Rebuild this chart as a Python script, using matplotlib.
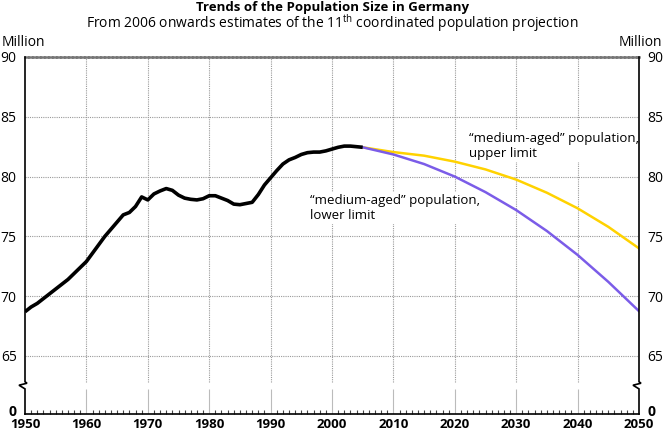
import matplotlib
matplotlib.use("Agg")
import matplotlib.pyplot as plt
import matplotlib.transforms as mtransforms

plt.rcParams['font.family'] = ['Open Sans', 'DejaVu Sans']
plt.rcParams['mathtext.fontset'] = 'custom'
plt.rcParams['mathtext.rm'] = 'Open Sans'

# ---------------------------------------------------------------
# Data (million inhabitants)
# ---------------------------------------------------------------
hist_years = list(range(1950, 2006))
hist_pop = [68.7, 69.1, 69.4, 69.8, 70.2, 70.6, 71.0, 71.4, 71.9, 72.4,
            72.9, 73.6, 74.3, 75.0, 75.6, 76.2, 76.8, 77.0, 77.5, 78.3,
            78.05, 78.55, 78.8, 79.0, 78.85, 78.45, 78.2, 78.1, 78.05, 78.15,
            78.4, 78.4, 78.2, 78.0, 77.7, 77.65, 77.75, 77.85, 78.5, 79.3,
            79.9, 80.5, 81.05, 81.4, 81.6, 81.85, 82.0, 82.05, 82.05, 82.15,
            82.3, 82.45, 82.55, 82.55, 82.5, 82.45]

proj_years = [2005, 2010, 2015, 2020, 2025, 2030, 2035, 2040, 2045, 2050]
lower_limit = [82.45, 81.85, 81.05, 80.0, 78.7, 77.2, 75.45, 73.45, 71.2, 68.75]
upper_limit = [82.45, 82.05, 81.75, 81.25, 80.6, 79.75, 78.65, 77.35, 75.8, 74.0]

decades = list(range(1950, 2051, 10))
y_ticks = [65, 70, 75, 80, 85, 90]

# ---------------------------------------------------------------
# Layout constants
# ---------------------------------------------------------------
Y_ZERO = 60.15        # where the "0" label sits (axis broken below 65)
BREAK_TOP = 62.85
BREAK_BOT = 62.25
PX_Y = 1 / 11.96      # one pixel in data units (y)
PX_X = 100 / 614      # one pixel in data units (x)

GRID_C = '#9a9a9a'
PURPLE = '#7b5ce8'
YELLOW = '#ffd200'

fig = plt.figure(figsize=(6.64, 4.33), dpi=100, facecolor='white')
ax = fig.add_axes([25 / 664, 19 / 433, 614 / 664, 357 / 433])
ax.set_xlim(1950, 2050)
ax.set_ylim(Y_ZERO, 90)

# grid
for v in y_ticks[:-1]:
    ax.axhline(v, color=GRID_C, lw=0.8, ls=(0, (1, 1)), zorder=1)
for d in decades[1:-1]:
    ax.vlines(d, BREAK_TOP, 90, color=GRID_C, lw=0.8, ls=(0, (1, 1)), zorder=1)
    ax.vlines(d, Y_ZERO, BREAK_BOT, color='#bbbbbb', lw=0.8, zorder=1)

# spines
for s in ['left', 'right']:
    ax.spines[s].set_visible(False)
ax.spines['bottom'].set_color('black')
ax.spines['bottom'].set_linewidth(1.2)
ax.spines['top'].set_color('#777777')
ax.spines['top'].set_linewidth(1.8)
ax.spines['top'].set_linestyle((0, (1, 0.6)))

# left / right axis lines with break mark
for x0 in [1950, 2050]:
    xs = [x0, x0, x0 + 2 * PX_X, x0 - 6 * PX_X, x0, x0]
    ys = [90, BREAK_TOP, BREAK_TOP - 1.5 * PX_Y, BREAK_TOP - 3.5 * PX_Y,
          BREAK_BOT, Y_ZERO]
    ax.plot(xs, ys, color='black', lw=1.2, clip_on=False, zorder=5,
            solid_joinstyle='miter')

# lines
ax.plot(proj_years, upper_limit, color=YELLOW, lw=1.8, zorder=3)
ax.plot(proj_years, lower_limit, color=PURPLE, lw=1.8, zorder=3.5)
ax.plot(hist_years, hist_pop, color='black', lw=2.6, zorder=4,
        solid_capstyle='butt', solid_joinstyle='round')

# ticks
ax.set_xticks(decades)
ax.set_xticklabels([str(d) for d in decades], fontsize=9.5, fontweight='bold')
ax.set_xticks(range(1950, 2051), minor=True)
ax.tick_params(axis='x', which='major', length=0, pad=3)
ax.tick_params(axis='x', which='minor', direction='in', length=3,
               width=0.8, color='#444444')

ax.set_yticks([Y_ZERO] + y_ticks)
ax.set_yticklabels(['0'] + [str(v) for v in y_ticks], fontsize=10)
ax.tick_params(axis='y', which='both', length=0, pad=6,
               labelleft=True, labelright=True)
# lift the "0" labels a little so they clear the year labels
lift = mtransforms.ScaledTranslation(0, 3 / 100, fig.dpi_scale_trans)
zero_tick = ax.yaxis.get_major_ticks()[0]
for lab in (zero_tick.label1, zero_tick.label2):
    lab.set_fontweight('bold')
    lab.set_transform(lab.get_transform() + lift)

# annotations
box = dict(facecolor='white', edgecolor='none', pad=1)
ax.text(2022.3, 83.75, '“medium-aged” population,\nupper limit',
        fontsize=9.5, ha='left', va='top', linespacing=1.25, bbox=box, zorder=2)
ax.text(1996.4, 78.55, '“medium-aged” population,\nlower limit',
        fontsize=9.5, ha='left', va='top', linespacing=1.25, bbox=box, zorder=2)

# titles
fig.text(0.5, 1 - 7 / 433, 'Trends of the Population Size in Germany',
         ha='center', va='center', fontsize=9.5, fontweight='bold')
fig.text(0.5, 1 - 23 / 433,
         r'From 2006 onwards estimates of the 11$^{\mathrm{th}}$ coordinated population projection',
         ha='center', va='center', fontsize=10)
fig.text(2 / 664, 1 - 43 / 433, 'Million', ha='left', va='center', fontsize=10)
fig.text(662 / 664, 1 - 43 / 433, 'Million', ha='right', va='center', fontsize=10)

fig.savefig('out.png', dpi=100, facecolor='white')
